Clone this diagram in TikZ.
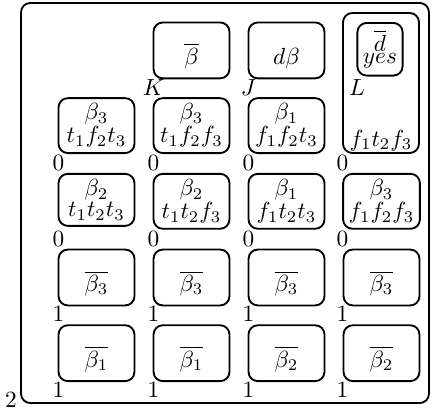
\documentclass[tikz,border=0pt]{standalone}
\newcommand{\stk}[2]{\vbox{\baselineskip=0pt\lineskip=1pt\lineskiplimit=0pt\halign{\hfil##\hfil\cr$#1$\cr$#2$\cr}}}

\begin{document}
\begin{tikzpicture}[x=0.4292pt, y=-0.4292pt, cell/.style={draw, thick, rounded corners, inner sep=2.4pt, minimum width=32.6pt, anchor=north}, one/.style={cell, text height=15.6pt, text depth=3.6pt}, num/.style={inner sep=0.3pt, anchor=north}]
	\useasboundingbox (0,0) rectangle (432,408);
	\node[draw, thick, rounded corners, minimum width=175.1pt, minimum height=171.7pt] (frame) at (225,203) {};
	\node[anchor=mid east, inner sep=0.3pt, xshift=-0.9pt, yshift=0.8pt] (two) at (frame.south west) {2};
	% top row
	\node[one] (bbar) at (191.5,21.5) {$\overline{\beta}$};
	\node[one] (dbeta) at (286.5,21.5) {$d\beta$};
	\node[cell, minimum height=60.1pt, anchor=center] (big) at (381,83) {};
	\node[cell, minimum width=0pt, minimum height=22.6pt] (yes) at (380,22) {\stk{\overline{d}}{yes}};
	\node[anchor=base] (ftf) at (381,146) {$f_1t_2f_3$};
	\node[num] (K) at (153.5,78) {$K$};
	\node[num] (J) at (248.5,78) {$J$};
	\node[num] (L) at (357,78) {$L$};
	% two-line rows
	\node[cell] (a1) at (96.5,97.2) {\stk{\beta_3}{t_1f_2t_3}};
	\node[cell] (a2) at (191.5,97.2) {\stk{\beta_3}{t_1f_2f_3}};
	\node[cell] (a3) at (286.5,97.2) {\stk{\beta_1}{f_1f_2t_3}};
	\node[cell] (b1) at (96.5,172.9) {\stk{\beta_2}{t_1t_2t_3}};
	\node[cell] (b2) at (191.5,172.9) {\stk{\beta_2}{t_1t_2f_3}};
	\node[cell] (b3) at (286.5,172.9) {\stk{\beta_1}{f_1t_2t_3}};
	\node[cell] (b4) at (381.5,172.9) {\stk{\beta_3}{f_1f_2f_3}};
	% barred rows
	\foreach \x/\k [count=\c] in {96.5/1,191.5/1,286.5/2,381.5/2} {
		\node[one] (c\c) at (\x,248.6) {$\overline{\beta_3}$};
		\node[one] (d\c) at (\x,324.3) {$\overline{\beta_\k}$};
	}
	% numbers under the boxes
	\foreach \x [count=\c] in {58.5,153.5,248.5,342.5} {
		\node[num] (na\c) at (\x,153.7) {0};
		\node[num] (nb\c) at (\x,229.4) {0};
		\node[num] (nc\c) at (\x,305.1) {1};
		\node[num] (nd\c) at (\x,380.8) {1};
	}
\end{tikzpicture}
\end{document}
